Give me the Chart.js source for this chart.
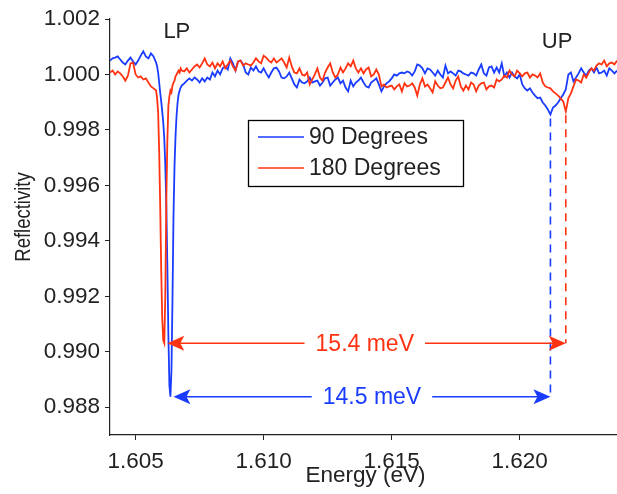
<!DOCTYPE html>
<html>
<head>
<meta charset="utf-8">
<script src="https://cdn.jsdelivr.net/npm/chart.js@4/dist/chart.umd.min.js"></script>
<style>
html,body{margin:0;padding:0;background:#fff;}
#wrap{width:617px;height:494px;position:relative;}
</style>
</head>
<body>
<div id="wrap"><canvas id="c" width="617" height="494"></canvas></div>
<script>
// ---------- data ----------
const energy = [
1.6040,1.6041,1.6042,1.6043,1.6044,1.6045,1.6046,1.6047,1.6048,1.6049,
1.6050,1.6051,1.6052,1.6053,1.6054,1.6055,1.6056,1.6057,
1.60580,1.60584,1.60588,1.60592,1.60596,1.60600,1.60604,1.60608,1.60612,1.60616,
1.60620,1.60624,1.60628,1.60632,1.60636,1.60640,1.60644,1.60648,1.60652,1.60656,
1.60660,1.60664,1.60668,1.60672,1.60676,1.60680,
1.6069,1.6070,1.6071,1.6072,1.6073,1.6074,1.6075,1.6076,1.6077,1.6078,
1.6079,1.6080,1.6081,1.6082,1.6083,1.6084,1.6085,1.6086,1.6087,1.6088,
1.6089,1.6090,1.6091,1.6092,1.6093,1.6094,1.6095,1.6096,1.6097,1.6098,
1.6099,1.6100,1.6101,1.6102,1.6103,1.6104,1.6105,1.6106,1.6107,1.6108,
1.6109,1.6110,1.6111,1.6112,1.6113,1.6114,1.6115,1.6116,1.6117,1.6118,
1.6119,1.6120,1.6121,1.6122,1.6123,1.6124,1.6125,1.6126,1.6127,1.6128,
1.6129,1.6130,1.6131,1.6132,1.6133,1.6134,1.6135,1.6136,1.6137,1.6138,
1.6139,1.6140,1.6141,1.6142,1.6143,1.6144,1.6145,1.6146,1.6147,1.6148,
1.6149,1.6150,1.6151,1.6152,1.6153,1.6154,1.6155,1.6156,1.6157,1.6158,
1.6159,1.6160,1.6161,1.6162,1.6163,1.6164,1.6165,1.6166,1.6167,1.6168,
1.6169,1.6170,1.6171,1.6172,1.6173,1.6174,1.6175,1.6176,1.6177,1.6178,
1.6179,1.6180,1.6181,1.6182,1.6183,1.6184,1.6185,1.6186,1.6187,1.6188,
1.6189,1.6190,1.6191,1.6192,1.6193,1.6194,1.6195,1.6196,1.6197,1.6198,
1.6199,1.6200,1.6201,1.6202,1.6203,1.6204,1.6205,1.6206,1.6207,1.6208,
1.6209,1.6210,1.6211,1.6212,1.6213,1.6214,1.6215,1.6216,1.6217,1.6218,
1.6219,1.6220,1.6221,1.6222,1.6223,1.6224,1.6225,1.6226,1.6227,1.6228,
1.6229,1.6230,1.6231,1.6232,1.6233,1.6234,1.6235,1.6236,1.6237,1.6238
];

const refl90 = [
1.00050,1.00058,1.00061,1.00065,1.00054,1.00043,1.00036,1.00050,1.00061,1.00047,
1.00036,1.00050,1.00068,1.00083,1.00065,1.00058,1.00076,1.00065,
1.00043,1.00029,1.00007,0.99971,0.99935,0.99903,0.99867,0.99827,0.99769,0.99672,
0.99528,0.99312,0.99059,0.98879,0.98838,0.98933,0.99186,0.99492,0.99672,0.99780,
0.99852,0.99899,0.99928,0.99942,0.99953,0.99960,
0.99968,0.99978,0.99986,0.99978,0.99989,0.99982,0.99971,0.99986,0.99975,0.99989,
0.99982,1.00007,0.99993,1.00014,1.00000,1.00022,1.00029,1.00018,1.00058,1.00040,
1.00014,1.00047,1.00050,1.00036,1.00007,1.00000,1.00025,1.00014,1.00029,1.00011,
1.00007,1.00022,1.00004,0.99989,1.00007,1.00022,1.00025,1.00011,0.99989,0.99986,
0.99993,1.00007,0.99986,0.99964,0.99953,0.99982,0.99971,0.99968,0.99975,0.99989,
0.99971,0.99975,0.99978,0.99960,0.99971,0.99986,0.99989,0.99960,0.99971,0.99982,
0.99989,0.99968,0.99978,0.99953,0.99939,0.99978,0.99957,0.99971,0.99978,0.99989,
0.99971,0.99957,0.99953,0.99971,0.99978,0.99986,0.99964,0.99939,0.99957,0.99968,
0.99975,0.99986,1.00000,0.99996,1.00004,1.00007,1.00004,1.00011,1.00007,0.99996,
1.00011,1.00036,1.00032,1.00022,1.00004,1.00022,1.00018,1.00007,0.99996,1.00014,
1.00000,0.99989,1.00032,1.00004,1.00011,1.00004,0.99996,1.00014,1.00011,1.00004,
1.00000,0.99996,1.00007,1.00004,0.99996,1.00018,1.00036,1.00004,0.99996,1.00025,
1.00029,1.00007,1.00025,1.00007,1.00040,0.99993,1.00007,0.99989,1.00007,0.99993,
0.99986,1.00000,0.99964,0.99950,0.99942,0.99950,0.99935,0.99924,0.99914,0.99917,
0.99899,0.99888,0.99874,0.99856,0.99881,0.99888,0.99899,0.99914,0.99928,0.99946,
1.00000,1.00007,0.99975,0.99989,1.00004,1.00022,1.00007,0.99996,1.00014,1.00022,
1.00007,1.00025,1.00004,1.00007,1.00014,0.99996,1.00022,1.00014,1.00004,1.00014
];

const refl180 = [
1.00007,1.00014,1.00000,1.00011,1.00004,0.99993,0.99978,0.99996,1.00040,1.00043,
1.00000,0.99989,0.99993,0.99982,0.99986,0.99971,0.99957,0.99950,
0.99942,0.99914,0.99863,0.99726,0.99528,0.99294,0.99121,0.99041,0.99031,0.99204,
0.99546,0.99762,0.99888,0.99921,0.99942,0.99935,0.99960,0.99971,0.99978,0.99993,
1.00000,1.00007,1.00014,1.00007,1.00022,1.00014,
1.00011,1.00022,1.00007,1.00018,1.00029,1.00036,1.00025,1.00040,1.00058,1.00036,
1.00029,1.00043,1.00022,1.00040,1.00029,1.00047,1.00022,1.00036,1.00050,1.00029,
1.00014,1.00047,1.00050,1.00032,1.00040,1.00036,1.00032,1.00043,1.00058,1.00047,
1.00040,1.00068,1.00061,1.00050,1.00043,1.00058,1.00043,1.00050,1.00058,1.00043,
1.00025,1.00061,1.00029,1.00007,1.00004,1.00022,1.00000,0.99996,1.00007,0.99964,
0.99982,1.00000,1.00022,0.99989,0.99978,1.00007,1.00025,1.00040,1.00007,0.99989,
1.00000,1.00025,1.00007,1.00022,1.00040,1.00029,1.00050,1.00022,1.00007,1.00022,
1.00004,1.00018,1.00025,0.99993,1.00000,1.00018,1.00000,0.99957,0.99964,0.99953,
0.99957,0.99960,0.99946,0.99957,0.99964,0.99939,0.99968,0.99957,0.99960,0.99968,
0.99953,0.99924,0.99964,0.99986,0.99957,0.99964,0.99950,0.99935,0.99975,0.99960,
0.99950,0.99953,0.99971,0.99989,0.99964,0.99950,0.99978,0.99993,0.99957,0.99942,
0.99960,0.99946,0.99971,0.99964,0.99939,0.99960,0.99968,0.99971,0.99946,0.99957,
0.99960,0.99953,0.99982,0.99975,0.99982,0.99996,0.99989,1.00014,1.00000,0.99993,
1.00014,1.00004,0.99993,1.00004,1.00007,0.99989,1.00000,0.99996,0.99989,1.00004,
0.99971,0.99957,0.99953,0.99950,0.99939,0.99932,0.99924,0.99914,0.99903,0.99867,
0.99914,0.99932,0.99957,0.99982,0.99978,0.99971,1.00000,0.99989,1.00007,1.00022,
1.00014,1.00032,1.00040,1.00036,1.00050,1.00029,1.00040,1.00043,1.00036,1.00050
];

const seriesNames = ['90 Degrees', '180 Degrees'];
const xTicks = [1.605, 1.610, 1.615, 1.620];
const yTicks = [0.988, 0.990, 0.992, 0.994, 0.996, 0.998, 1.000, 1.002];

// polariton peaks: [90 deg, 180 deg]
const lpPeakEnergy = [1.60636, 1.60612];
const lpPeakRefl   = [0.98838, 0.99031];
const upPeakEnergy = [1.6212, 1.6218];
const upPeakRefl   = [0.99856, 0.99867];
const splitLabels  = ['14.5 meV', '15.4 meV'];
const splitLabelEnergy = [1.61423, 1.61395];
const peakNames = ['LP', 'UP'];
const peakNameEnergy = [1.60661, 1.62146];
const peakNameRefl = [1.00154, 1.00118];

// ---------- style ----------
const FONT = "'Liberation Sans', Arial, Helvetica, sans-serif";
const TXT = '#222222';
const BLUE = '#1a3cff';
const RED = '#ff3311';
const colors = [BLUE, RED];

const pts = arr => energy.map((e, i) => ({x: e, y: arr[i]}));

function arrowHead(ctx, x, y, dir, color) {
  const L = 17, W = 7.5, N = 4;
  ctx.save();
  ctx.fillStyle = color;
  ctx.beginPath();
  ctx.moveTo(x, y);
  ctx.lineTo(x - dir * L, y - W);
  ctx.lineTo(x - dir * (L - N), y);
  ctx.lineTo(x - dir * L, y + W);
  ctx.closePath();
  ctx.fill();
  ctx.restore();
}

const annot = {
  id: 'annot',
  afterDatasetsDraw(chart) {
    const ctx = chart.ctx, xs = chart.scales.x, ys = chart.scales.y;
    ctx.save();
    // peak names
    ctx.font = '22px ' + FONT;
    ctx.fillStyle = TXT;
    ctx.textAlign = 'center';
    ctx.textBaseline = 'middle';
    peakNames.forEach((n, i) => {
      ctx.fillText(n, xs.getPixelForValue(peakNameEnergy[i]), ys.getPixelForValue(peakNameRefl[i]));
    });
    // dashed lines + arrows
    for (let i = 0; i < 2; i++) {
      const c = colors[i];
      const xU = xs.getPixelForValue(upPeakEnergy[i]);
      const xL = xs.getPixelForValue(lpPeakEnergy[i]) + 3;
      const yA = ys.getPixelForValue(lpPeakRefl[i]);
      const yTop = ys.getPixelForValue(upPeakRefl[i]);
      ctx.strokeStyle = c;
      ctx.lineWidth = 1.6;
      ctx.setLineDash([8, 6]);
      ctx.beginPath();
      ctx.moveTo(xU, yTop + 4);
      ctx.lineTo(xU, yA);
      ctx.stroke();
      ctx.setLineDash([]);
      ctx.font = '23px ' + FONT;
      const tx = xs.getPixelForValue(splitLabelEnergy[i]);
      const tw = ctx.measureText(splitLabels[i]).width;
      const g = tw / 2 + 11;
      ctx.beginPath();
      ctx.moveTo(xL + 6, yA);
      ctx.lineTo(tx - g, yA);
      ctx.moveTo(tx + g, yA);
      ctx.lineTo(xU - 6, yA);
      ctx.stroke();
      arrowHead(ctx, xL, yA, -1, c);
      arrowHead(ctx, xU, yA, 1, c);
      ctx.fillStyle = c;
      ctx.textAlign = 'center';
      ctx.textBaseline = 'middle';
      ctx.fillText(splitLabels[i], tx, yA + 1);
    }
    // legend box
    const bx = 248, by = 120, bw = 215, bh = 66;
    ctx.fillStyle = '#fff';
    ctx.fillRect(bx, by, bw, bh);
    ctx.strokeStyle = '#000';
    ctx.lineWidth = 1.3;
    ctx.strokeRect(bx + 0.5, by + 0.5, bw, bh);
    ctx.font = '23px ' + FONT;
    ctx.textAlign = 'left';
    ctx.textBaseline = 'middle';
    seriesNames.forEach((n, i) => {
      const yy = by + 17 + i * 31;
      ctx.strokeStyle = colors[i];
      ctx.lineWidth = 1.6;
      ctx.beginPath();
      ctx.moveTo(bx + 10, yy);
      ctx.lineTo(bx + 56, yy);
      ctx.stroke();
      ctx.fillStyle = TXT;
      ctx.fillText(n, bx + 61, yy + 1);
    });
    // axis titles
    ctx.fillStyle = TXT;
    ctx.font = '22.5px ' + FONT;
    ctx.textAlign = 'center';
    ctx.textBaseline = 'middle';
    ctx.fillText('Energy (eV)', (chart.chartArea.left + chart.chartArea.right) / 2 + 2, 476);
    ctx.save();
    ctx.translate(24, 217);
    ctx.rotate(-Math.PI / 2);
    ctx.scale(0.84, 1);
    ctx.font = '22px ' + FONT;
    ctx.fillText('Reflectivity', 0, 0);
    ctx.restore();
    ctx.restore();
  }
};

new Chart(document.getElementById('c'), {
  type: 'line',
  data: {
    datasets: [
      {label: seriesNames[0], data: pts(refl90), borderColor: BLUE, borderWidth: 1.8, pointRadius: 0, tension: 0, fill: false, order: 1},
      {label: seriesNames[1], data: pts(refl180), borderColor: RED, borderWidth: 1.8, pointRadius: 0, tension: 0, fill: false, order: 0}
    ]
  },
  options: {
    responsive: false,
    animation: false,
    devicePixelRatio: 1,
    layout: {padding: {top: 19, right: 0, bottom: 0, left: 0}},
    plugins: {legend: {display: false}, tooltip: {enabled: false}},
    scales: {
      x: {
        type: 'linear', min: 1.604, max: 1.6238,
        afterBuildTicks: s => { s.ticks = xTicks.map(v => ({value: v})); },
        afterFit: s => { s.height = 59; },
        ticks: {callback: v => Number(v).toFixed(3), font: {family: FONT, size: 22.5}, color: TXT, padding: 8, maxRotation: 0, autoSkip: false},
        grid: {display: true, drawOnChartArea: false, drawTicks: true, tickLength: 5, color: TXT, lineWidth: 1},
        border: {display: true, color: TXT, width: 1.2}
      },
      y: {
        type: 'linear', min: 0.987, max: 1.002,
        afterBuildTicks: s => { s.ticks = yTicks.map(v => ({value: v})); },
        afterFit: s => { s.width = 110; },
        ticks: {callback: v => Number(v).toFixed(3), font: {family: FONT, size: 22.5}, color: TXT, padding: 5, autoSkip: false},
        grid: {display: true, drawOnChartArea: false, drawTicks: true, tickLength: 5, color: TXT, lineWidth: 1},
        border: {display: true, color: TXT, width: 1.2}
      }
    }
  },
  plugins: [annot]
});
</script>
</body>
</html>
